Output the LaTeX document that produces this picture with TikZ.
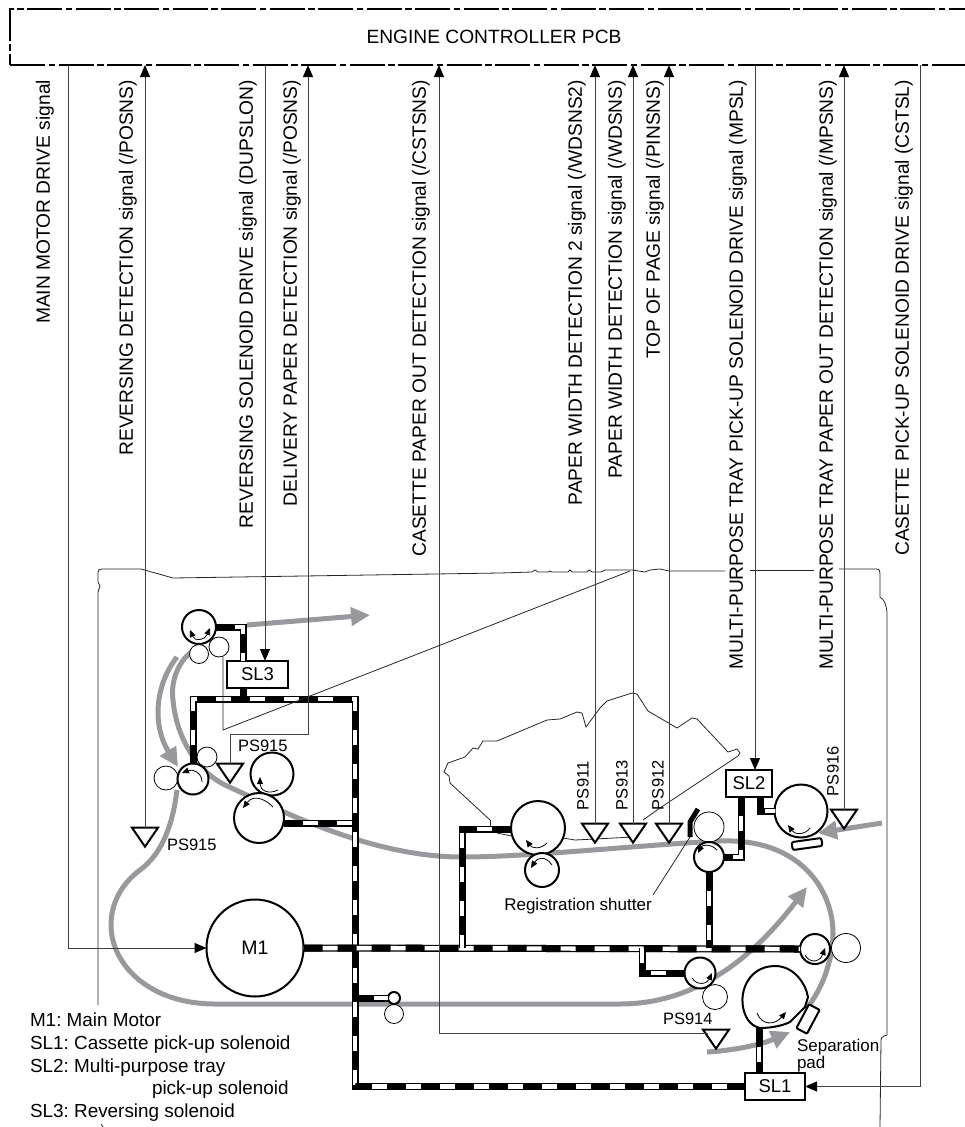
\documentclass[tikz,border=0pt]{standalone}
\usepackage{fontspec}
\setmainfont{Liberation Sans}
\usetikzlibrary{arrows.meta,shapes.geometric}
\definecolor{papergray}{RGB}{152,153,157}
\frenchspacing
\tikzset{
  lab/.style={inner sep=0pt,outer sep=0pt,font=\fontsize{17}{20}\selectfont},
  biglab/.style={lab,font=\fontsize{19.2}{22}\selectfont},
  siglab/.style={biglab,rotate=90,anchor=east},
  leglab/.style={lab,anchor=base west,font=\fontsize{18.9}{22}\selectfont},
  pslab/.style={lab,font=\fontsize{16.5}{20}\selectfont},
  sig/.style={line width=1pt,black!75},
  tiptop/.style={-{Triangle[length=12pt,width=10pt,black]}},
  thinline/.style={line width=0.8pt,black!85},
  paper/.style={draw=papergray,line width=5pt},
  paperhead/.style={-{Triangle[length=19pt,width=18pt,papergray]}},
  gearline/.style={line width=7pt,black,postaction={draw=white,line width=4.4pt},
    postaction={draw=black,line width=7pt,dash pattern=on 19pt off 15pt}},
  roller/.style={circle,draw,fill=white,line width=2pt,inner sep=0pt,outer sep=0pt,minimum size=#1},
  idler/.style={circle,draw,fill=white,line width=0.8pt,inner sep=0pt,outer sep=0pt,minimum size=#1},
  solbox/.style={rectangle,draw,fill=white,line width=2pt,inner sep=0pt,outer sep=0pt,font=\fontsize{18.5}{20}\selectfont},
  sensor/.style={isosceles triangle,isosceles triangle stretches,shape border rotate=-90,draw,fill=white,
    line width=2pt,inner sep=0pt,outer sep=0pt,minimum width=26pt,minimum height=19pt},
  spin/.style={line width=0.8pt,-{Triangle[length=7pt,width=6pt]}},
}
\begin{document}
\begin{tikzpicture}[x=1pt,y=-1pt]
  \useasboundingbox (0,0) rectangle (964,1127);
  % Engine controller
  \node[biglab,draw,line width=2pt,dash pattern=on 35pt off 3.5pt on 6.5pt off 3.5pt,minimum width=968pt,minimum height=56pt]
    (ecu) at (494,37) {ENGINE CONTROLLER PCB};
  % Printer outline
  \draw[thinline] (98,1005) -- (98,592) -- (100,586) -- (98,582) -- (98,573) .. controls (98,570) and (99,569) .. (102,569)
    -- (141,569) -- (173,578) -- (500,573) -- (532,572) -- (535,570) -- (538,572) -- (548,572) -- (550,571) -- (552,572)
    -- (568,572) -- (570,570) -- (572,572) -- (587,572) -- (589,570) -- (592,572) -- (601,572) -- (605,570) -- (632,570)
    -- (645,572) -- (650,570) -- (660,569) -- (669,571) -- (725,571);
  \draw[thinline] (750,570) -- (814,570);
  \draw[thinline] (839,569) -- (876,569) .. controls (880,569) and (880,571) .. (880,574) -- (880,597)
    .. controls (885,600) and (886,605) .. (887,612) -- (887,1035) -- (884,1036) .. controls (882,1037) and (881,1038) .. (881,1040) -- (880,1127);
  \draw[thinline] (101,1124) -- (103,1127);
  % Multi-purpose tray
  \draw[thinline] (490,820) -- (450,783) -- (449,776) -- (444,772) -- (448,763) -- (465,757) -- (473,748) -- (478,749)
    -- (483,741) -- (497,741) -- (547,720) -- (560,719) -- (577,712) -- (582,713) -- (586,727) -- (600,708) -- (607,701)
    -- (632,693) -- (637,694) -- (648,711) -- (677,728) -- (692,718) -- (697,719) -- (728,752) -- (737,749) -- (740,753)
    -- (738,756) -- (660,808) -- (643,820);
  \draw[thinline] (490,820) -- (490,829);
  \draw[thinline] (497,833) -- (512,836);
  \draw[thinline] (563,838) -- (575,840) -- (595,839) -- (633,837);
  % Paper path
  \draw[paper] (200,647) .. controls (180,655) and (170,680) .. (173,700) .. controls (176,735) and (195,770) .. (225,785)
    .. controls (280,810) and (370,857) .. (462,857) .. controls (530,857) and (640,845) .. (720,841)
    .. controls (800,838) and (833,890) .. (833,933) .. controls (833,960) and (822,990) .. (806,1009);
  \draw[paper,paperhead] (247,625) -- (370,615);
  \draw[paper,paperhead] (177,657) .. controls (155,685) and (152,725) .. (178,767);
  \draw[paper,paperhead] (177,790) .. controls (172,830) and (160,855) .. (140,870) .. controls (120,885) and (111,905) .. (111,925)
    .. controls (111,965) and (150,1004) .. (215,1004) -- (620,1004) .. controls (680,1004) and (740,975) .. (807,887);
  \draw[paper,paperhead] (882,823) -- (818,833);
  \draw[paper,paperhead] (707,1052) .. controls (740,1050) and (765,1043) .. (790,1032);
  % Motor and solenoids
  \node[roller=97pt,font=\fontsize{19.5}{20}\selectfont] (mot) at (255,948) {M1};
  \node[solbox,minimum width=61pt,minimum height=27pt] (sl3) at (257.5,674.5) {SL3};
  \node[solbox,minimum width=46pt,minimum height=27pt] (sl2) at (749,783.5) {SL2};
  \node[solbox,minimum width=60pt,minimum height=27pt] (sl1) at (775,1086.5) {SL1};
  % Rollers
  \node[roller=34pt] (rolTop) at (199,627) {};
  \node[idler=19pt] (idlTopA) at (199,654) {};
  \node[idler=20pt] (idlTopB) at (219,647) {};
  \node[idler=24pt] (idlDupA) at (166,778) {};
  \node[idler=20pt] (idlDupB) at (207,757) {};
  \node[roller=31pt] (rolDup) at (193,779) {};
  \node[roller=43pt] (rolFixA) at (272,774) {};
  \node[roller=50pt] (rolFix) at (259,818) {};
  \node[roller=54pt] (rolReg) at (538,828) {};
  \node[roller=34pt] (rolRegB) at (542,870) {};
  \node[idler=30pt] (idlShut) at (709,827) {};
  \node[roller=30pt] (rolShut) at (709,857) {};
  \node[roller=53pt] (rolMp) at (801,811) {};
  \node[roller=30pt] (rolFeed) at (815,949) {};
  \node[idler=29pt] (idlFeed) at (846,948) {};
  \node[idler=25pt] (idlLow) at (715,997) {};
  \node[roller=31pt] (rolLow) at (700,973) {};
  \node[idler=19pt] (idlDup) at (394,1014) {};
  \node[roller=12pt] (rolDupL) at (394,998) {};
  % Cassette pick-up roller
  \draw[line width=2pt,fill=white] (748,1020) .. controls (735,1000) and (745,966) .. (775,966) .. controls (795,966) and (806,985) .. (808,997)
    -- (805,1007) -- (790,1022) .. controls (782,1026) and (770,1028) .. (760,1028) .. controls (755,1027) and (751,1024) .. cycle;
  \coordinate (pickfoot) at (759,1028);
  % Drive lines
  \coordinate (busA) at (355,699);
  \coordinate (busB) at (193,699);
  \coordinate (busC) at (355,1086.5);
  \coordinate (busD) at (243,699);
  \coordinate (busE) at (243,627);
  \coordinate (busG) at (462,948);
  \coordinate (busH) at (462,829);
  \coordinate (busJ) at (642,948);
  \coordinate (busK) at (642,973);
  \coordinate (busL) at (709,948);
  \coordinate (busM) at (741,857);
  \coordinate (busN) at (760,811);
  \coordinate (busP) at (741,797);
  \coordinate (busQ) at (355,823);
  \coordinate (busR) at (355,998);
  \draw[gearline] (rolDup.north) -- (busB) -- (busA) -- (busC) -- (sl1.west);
  \draw[gearline] (rolTop.east) -- (busE) -- (sl3.north -| busE);
  \draw[gearline] (sl3.south -| busD) -- (busD);
  \draw[gearline] (busQ -| rolFix.east) -- (busQ);
  \draw[gearline] (mot.east) -- (rolFeed.west);
  \draw[gearline] (rolReg.west |- busH) -- (busH) -- (busG);
  \draw[gearline] (busK -| rolLow.west) -- (busK) -- (busJ);
  \draw[gearline] (rolShut.south) -- (busL);
  \draw[gearline] (busP) -- (busM) -- (rolShut.east);
  \draw[gearline] (sl2.south -| busN) -- (busN) -- (rolMp.west);
  \draw[gearline] (busR) -- (rolDupL.west);
  \draw[gearline] (pickfoot) -- (sl1.north -| pickfoot);
  % Rotation arrows
  \draw[spin,{Triangle[length=7pt,width=6pt]}-{Triangle[length=7pt,width=6pt]}] (190,630) .. controls (195,642) and (205,640) .. (210,628);
  \draw[spin] (202,782) .. controls (202,772) and (192,769) .. (182,773);
  \draw[spin] (278,790) .. controls (268,795) and (260,790) .. (260,777);
  \draw[spin] (273,807) .. controls (262,796) and (252,796) .. (243,808);
  \draw[spin] (547,843) .. controls (540,850) and (532,848) .. (526,840);
  \draw[spin] (552,865) .. controls (545,855) and (537,858) .. (531,868);
  \draw[spin] (717,850) .. controls (710,843) and (702,845) .. (698,853);
  \draw[spin] (810,828) .. controls (805,835) and (795,835) .. (788,825);
  \draw[spin] (805,955) .. controls (810,964) and (820,962) .. (825,948);
  \draw[spin] (692,978) .. controls (697,986) and (707,984) .. (712,973);
  \draw[spin] (757,1013) .. controls (762,1026) and (775,1025) .. (786,1012);
  % Shutter and separation pad
  \draw[line width=5pt] (690,837) -- (690,822) -- (698,809);
  \node[rectangle,draw,fill=white,rounded corners=2pt,line width=2pt,inner sep=0pt,minimum width=30pt,minimum height=8pt,rotate=8] (sepA) at (807,844) {};
  \node[rectangle,draw,fill=white,rounded corners=1pt,line width=2pt,inner sep=0pt,minimum width=27pt,minimum height=12pt,rotate=62] (sepB) at (808,1019) {};
  \node[lab,anchor=center] (regtxt) at (578,906) {Registration shutter};
  \coordinate (shutfoot) at (690,837);
  \draw[thinline] (653,895) -- (shutfoot);
  \node[lab,anchor=base west] (septxtA) at (797,1051) {Separation};
  \node[lab,anchor=base west] (septxtB) at (797,1068) {pad};
  % Sensors
  \node[sensor] (psRev) at (145,834.5) {};
  \node[sensor] (psDel) at (230,770.5) {};
  \node[sensor] (ps911) at (595,830.5) {};
  \node[sensor] (ps913) at (633,830.5) {};
  \node[sensor] (ps912) at (669,830.5) {};
  \node[sensor] (ps916) at (844,816.5) {};
  \node[sensor] (ps914) at (716,1036.5) {};
  \node[pslab,anchor=base west] (psTxtA) at (238,751) {PS915};
  \node[pslab,anchor=base west] (psTxtB) at (167,850) {PS915};
  \node[pslab,anchor=base west] (psTxtC) at (663,1024) {PS914};
  \node[pslab,rotate=90,anchor=west] (psTxtD) at (583,810) {PS911};
  \node[pslab,rotate=90,anchor=west] (psTxtE) at (622,810) {PS913};
  \node[pslab,rotate=90,anchor=west] (psTxtF) at (658,810) {PS912};
  \node[pslab,rotate=90,anchor=west] (psTxtG) at (833,796) {PS916};
  % Signals
  \coordinate (drvMot) at (68,948);
  \coordinate (drvDel) at (308,734);
  \coordinate (drvCst) at (439,1033);
  \coordinate (drvSl3) at (265,661);
  \coordinate (drvSl2) at (755,770);
  \coordinate (drvSl1) at (920,1086.5);
  \draw[sig,tiptop] (drvMot |- ecu.south) -- (drvMot) -- (mot.west);
  \draw[sig,tiptop] (psRev.north) -- (psRev.north |- ecu.south);
  \draw[sig,tiptop] (drvSl3 |- ecu.south) -- (drvSl3);
  \draw[sig,tiptop] (psDel.north) -- (psDel.north |- drvDel) -- (drvDel) -- (drvDel |- ecu.south);
  \draw[sig,tiptop] (ps914.west |- drvCst) -- (drvCst) -- (drvCst |- ecu.south);
  \draw[sig,tiptop] (ps911.north) -- (ps911.north |- ecu.south);
  \draw[sig,tiptop] (ps913.north) -- (ps913.north |- ecu.south);
  \draw[sig,tiptop] (ps912.north) -- (ps912.north |- ecu.south);
  \draw[sig,tiptop] (drvSl2 |- ecu.south) -- (drvSl2);
  \draw[sig,tiptop] (ps916.north) -- (ps916.north |- ecu.south);
  \draw[sig,tiptop] (drvSl1 |- ecu.south) -- (drvSl1) -- (sl1.east);
  % Drive line of the delivery sensor and tray edge
  \coordinate (tieA) at (223,730);
  \coordinate (tieB) at (630,571);
  \draw[thinline] (tieB) -- (tieA) -- (tieA |- idlTopB.south);
  % Signal names
  \node[siglab] (txtMot) at (45,80) {MAIN MOTOR DRIVE signal};
  \node[siglab] (txtRev) at (128,80) {REVERSING DETECTION signal (/POSNS)};
  \node[siglab] (txtDup) at (248,80) {REVERSING SOLENOID DRIVE signal (DUPSLON)};
  \node[siglab] (txtDel) at (292,80) {DELIVERY PAPER DETECTION signal (/POSNS)};
  \node[siglab] (txtCst) at (421,80) {CASETTE PAPER OUT DETECTION signal (/CSTSNS)};
  \node[siglab] (txtWdb) at (577,80) {PAPER WIDTH DETECTION 2 signal (/WDSNS2)};
  \node[siglab] (txtWd) at (617,80) {PAPER WIDTH DETECTION signal (/WDSNS)};
  \node[siglab] (txtTop) at (655,80) {TOP OF PAGE signal (/PINSNS)};
  \node[siglab] (txtMps) at (738,80) {MULTI-PURPOSE TRAY PICK-UP SOLENOID DRIVE signal (MPSL)};
  \node[siglab] (txtMpo) at (828,80) {MULTI-PURPOSE TRAY PAPER OUT DETECTION signal (/MPSNS)};
  \node[siglab] (txtCsl) at (904,80) {CASETTE PICK-UP SOLENOID DRIVE signal (CSTSL)};
  % Legend
  \node[leglab] (legA) at (30,1026) {M1: Main Motor};
  \node[leglab] (legB) at (30,1049) {SL1: Cassette pick-up solenoid};
  \node[leglab] (legC) at (30,1072) {SL2: Multi-purpose tray};
  \node[leglab] (legD) at (152,1094) {pick-up solenoid};
  \node[leglab] (legE) at (30,1117) {SL3: Reversing solenoid};
\end{tikzpicture}
\end{document}
